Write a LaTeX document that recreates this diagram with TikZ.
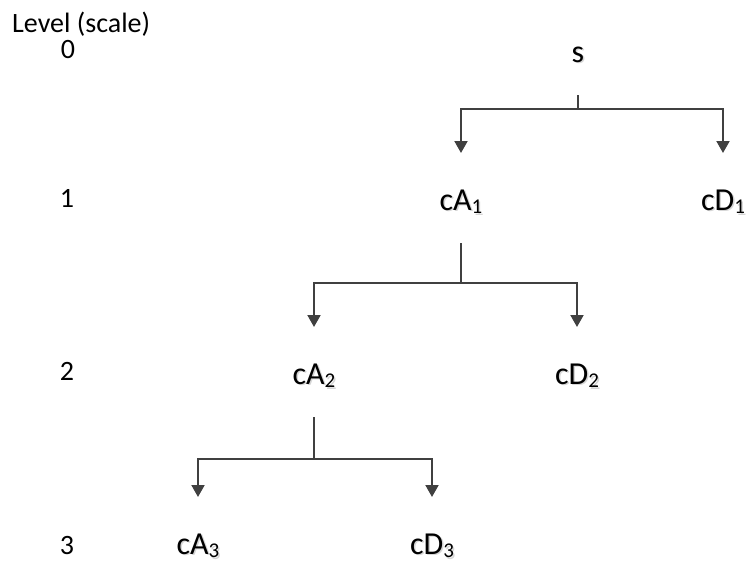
\documentclass[tikz,border=0pt]{standalone}
\usepackage{fontspec}
\setmainfont{Carlito}
\usetikzlibrary{arrows.meta}

\newcommand\wsub[1]{\raisebox{-0.12em}{\fontsize{21}{24}\selectfont #1}}
\newcommand\coef[2]{\makebox[0pt][l]{\hspace{1.5pt}\raisebox{-1.5pt}{\color{black!16}#1\wsub{#2}}}#1\wsub{#2}}

\tikzset{
  lvl/.style={anchor=base, inner sep=0pt, font=\fontsize{28}{32}\selectfont},
  lbl/.style={anchor=base, inner sep=0pt, font=\fontsize{32}{36}\selectfont},
  fork/.style={draw=black!75, line width=2pt, -{Triangle[width=13pt,length=12pt]},
    shorten <=33pt, shorten >=57pt,
    to path={(\tikztostart.base) -- ++(0,#1) -| (\tikztotarget.base)}}
}

\begin{document}
\begin{tikzpicture}[x=1pt,y=-1pt]
\useasboundingbox (0,0) rectangle (753,565);

% levels
\node[lvl, anchor=base west] (lev) at (12,32) {Level (scale)};
\node[lvl] (l0) at (68,58) {0};
\node[lvl] (l1) at (67,207) {1};
\node[lvl] (l2) at (67,380) {2};
\node[lvl] (l3) at (67,554) {3};

% coefficients
\node[lbl] (s) at (578,62) {\coef{s}{}};
\node[lbl] (cA1) at (461,210) {\coef{cA}{1}};
\node[lbl] (cD1) at (723,210) {\coef{cD}{1}};
\node[lbl] (cA2) at (314,384) {\coef{cA}{2}};
\node[lbl] (cD2) at (577,384) {\coef{cD}{2}};
\node[lbl] (cA3) at (198,554) {\coef{cA}{3}};
\node[lbl] (cD3) at (432,554) {\coef{cD}{3}};

\path (s) edge[fork=47] (cA1)
          edge[fork=47] (cD1);
\path (cA1) edge[fork=73] (cA2)
            edge[fork=73] (cD2);
\path (cA2) edge[fork=75] (cA3)
            edge[fork=75] (cD3);
\end{tikzpicture}
\end{document}
